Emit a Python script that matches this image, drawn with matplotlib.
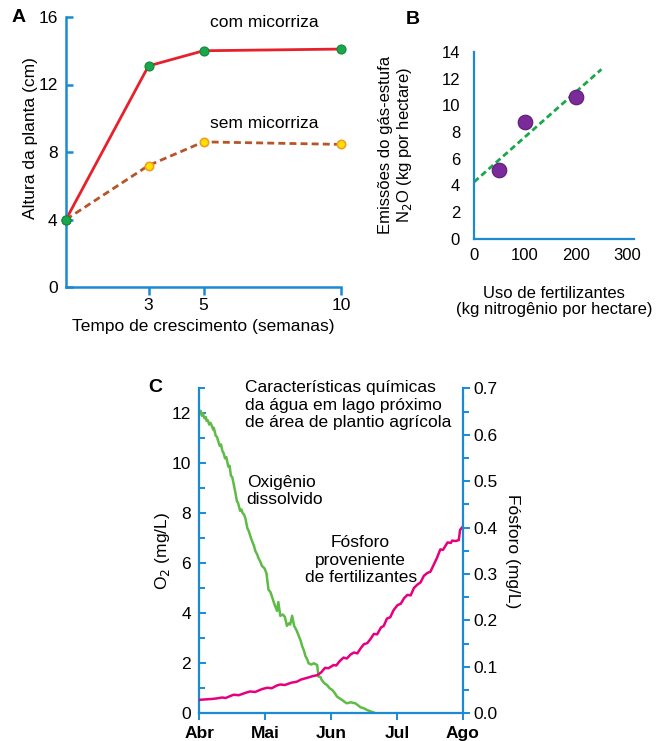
import matplotlib
matplotlib.use('Agg')
import numpy as np
import matplotlib.pyplot as plt

plt.rcParams['font.family'] = ['Liberation Sans', 'DejaVu Sans']

# --- dados A
semanas = [0, 3, 5, 10]
com_mic = [4.0, 13.1, 14.0, 14.1]
sem_mic = [4.0, 7.2, 8.6, 8.45]

# --- dados B
fert = [50, 100, 200]
n2o = [5.15, 8.75, 10.6]
trend_x = [0, 250]
trend_y = [4.25, 12.7]

# --- dados C (meses a partir de abril)
o2_t = [0.00, 0.02, 0.04, 0.05, 0.08, 0.10, 0.11, 0.13, 0.15, 0.17, 0.19, 0.21, 0.22, 0.25,
        0.27, 0.28, 0.31, 0.33, 0.35, 0.37, 0.39, 0.41, 0.44, 0.46, 0.48, 0.50, 0.52,
        0.55, 0.57, 0.59, 0.62, 0.64, 0.66, 0.68, 0.70, 0.73, 0.75, 0.78, 0.80, 0.83,
        0.85, 0.88, 0.90, 0.93, 0.95, 0.99, 1.02, 1.05, 1.08, 1.10, 1.13, 1.15, 1.18,
        1.20, 1.23, 1.27, 1.30, 1.33, 1.36, 1.38, 1.41, 1.44, 1.48, 1.51, 1.54, 1.56,
        1.59, 1.61, 1.64, 1.66, 1.70, 1.74, 1.79, 1.81, 1.84, 1.86, 1.90, 1.94, 1.98,
        2.02, 2.06, 2.09, 2.13, 2.17, 2.21, 2.24, 2.30, 2.37, 2.41, 2.45, 2.50, 2.55,
        2.62, 2.68]
o2_v = [12.0, 12.1, 11.9, 12.0, 11.8, 11.85, 11.7, 11.72, 11.55, 11.62, 11.5, 11.35, 11.42, 11.1,
        11.05, 10.95, 10.7, 10.75, 10.5, 10.4, 10.2, 10.25, 9.87, 9.9, 9.5, 9.45, 9.2,
        8.8, 8.5, 8.4, 8.1, 8.15, 8.0, 7.95, 7.8, 7.4, 7.3, 7.05, 6.9, 6.7,
        6.5, 6.35, 6.2, 6.05, 5.9, 5.8, 5.6, 4.95, 4.85, 4.7, 4.45, 4.3, 4.1,
        4.45, 3.9, 3.95, 3.85, 3.5, 3.6, 3.55, 3.9, 3.5, 3.3, 3.1, 2.9, 2.7,
        2.5, 2.3, 2.15, 2.0, 1.95, 2.0, 1.93, 1.47, 1.45, 1.33, 1.2, 1.13, 1.0,
        0.93, 0.8, 0.67, 0.6, 0.53, 0.45, 0.40, 0.44, 0.40, 0.32, 0.24, 0.2, 0.13,
        0.06, 0.0]
p_t = [0.00, 0.10, 0.20, 0.26, 0.35, 0.40, 0.52, 0.60, 0.70, 0.77, 0.85, 0.95, 1.03, 1.10,
       1.18, 1.23, 1.30, 1.40, 1.48, 1.55, 1.63, 1.72, 1.79, 1.85, 1.91, 1.96, 2.04, 2.08,
       2.13, 2.19, 2.24, 2.30, 2.35, 2.40, 2.45, 2.50, 2.55, 2.60, 2.65, 2.70, 2.76, 2.80,
       2.85, 2.90, 2.95, 3.01, 3.06, 3.11, 3.16, 3.21, 3.26, 3.31, 3.36, 3.41, 3.46, 3.51,
       3.56, 3.61, 3.66, 3.70, 3.77, 3.82, 3.84, 3.89, 3.94, 3.96, 4.0]
p_v = [0.029, 0.030, 0.031, 0.032, 0.034, 0.033, 0.040, 0.039, 0.044, 0.047, 0.046, 0.052,
       0.055, 0.054, 0.060, 0.062, 0.061, 0.066, 0.068, 0.073, 0.076, 0.080, 0.082, 0.088,
       0.098, 0.097, 0.104, 0.103, 0.112, 0.120, 0.118, 0.127, 0.131, 0.129, 0.140, 0.149,
       0.151, 0.160, 0.171, 0.170, 0.185, 0.188, 0.204, 0.207, 0.222, 0.233, 0.236, 0.248,
       0.255, 0.254, 0.270, 0.277, 0.282, 0.296, 0.302, 0.305, 0.320, 0.335, 0.353, 0.352,
       0.368, 0.367, 0.372, 0.371, 0.373, 0.395, 0.402]
meses = ['Abr', 'Mai', 'Jun', 'Jul', 'Ago']

blue = '#1b8ad3'
fs = 12.5

fig = plt.figure(figsize=(6.56, 7.41), dpi=100)

# ---------------- A
ax = fig.add_axes([66/656, 1-287/741, 275/656, 270/741])
ax.plot(semanas, com_mic, color='#e8202a', lw=2, zorder=2, clip_on=False)
ax.plot(semanas, sem_mic, color='#b5562a', lw=2, ls=(0, (2.5, 1.5)), zorder=2, clip_on=False)
ax.plot(semanas[1:], sem_mic[1:], 'o', ms=6, mfc='#ffe000', mec='#f0a020', mew=1.2, zorder=3,
        clip_on=False)
ax.plot(semanas, com_mic, 'o', ms=6.5, mfc='#1aa64a', mec='#12883a', mew=0.8, zorder=3,
        clip_on=False)
ax.plot(semanas[:1], sem_mic[:1], 'o', ms=6.5, mfc='#1aa64a', mec='#12883a', mew=0.8, zorder=4,
        clip_on=False)
ax.set_xlim(0, 10)
ax.set_ylim(0, 16)
ax.set_xticks([3, 5, 10])
ax.set_yticks([0, 4, 8, 12, 16])
for s in ['top', 'right']:
    ax.spines[s].set_visible(False)
for s in ['left', 'bottom']:
    ax.spines[s].set_color(blue)
    ax.spines[s].set_linewidth(1.8)
ax.tick_params(axis='y', direction='in', color=blue, width=1.8, length=5, labelsize=fs, pad=6)
ax.tick_params(axis='x', direction='out', color=blue, width=1.8, length=6, labelsize=fs, pad=2)
ax.set_xlabel('Tempo de crescimento (semanas)', fontsize=fs, labelpad=4)
ax.set_ylabel('Altura da planta (cm)', fontsize=fs)
ax.yaxis.set_label_coords(-0.10, 0.55)
ax.text(5.25, 15.7, 'com micorriza', fontsize=fs, va='center')
ax.text(5.25, 9.7, 'sem micorriza', fontsize=fs, va='center')
fig.text(12/656, 1-17/741, 'A', fontsize=14, fontweight='bold', va='center')

# ---------------- B
bx = fig.add_axes([474/656, 1-238.7/741, 160/656, 186.7/741])
bx.plot(trend_x, trend_y, color='#1aa64a', lw=2, ls=(0, (2.2, 1.3)))
bx.scatter(fert, n2o, s=110, color='#7b2a9a', edgecolor='#5a1a78', lw=0.8, zorder=3)
bx.set_xlim(0, 314)
bx.set_ylim(0, 14)
bx.set_xticks([0, 100, 200, 300])
bx.set_yticks(range(0, 15, 2))
for s in ['top', 'right']:
    bx.spines[s].set_visible(False)
for s in ['left', 'bottom']:
    bx.spines[s].set_color(blue)
    bx.spines[s].set_linewidth(1.6)
bx.tick_params(axis='y', length=0, labelsize=12, pad=10)
bx.tick_params(axis='x', length=0, labelsize=12, pad=7)
bx.set_xlabel('Uso de fertilizantes\n(kg nitrogênio por hectare)', fontsize=12, labelpad=16,
              linespacing=1.15)
bx.set_ylabel('Emissões do gás-estufa\nN$_2$O (kg por hectare)', fontsize=12, labelpad=20,
              linespacing=1.1)
fig.text(406/656, 1-19/741, 'B', fontsize=14, fontweight='bold', va='center')

# ---------------- C
cx = fig.add_axes([199.3/656, 1-713.3/741, 263.4/656, 325/741])
cx.plot(o2_t, o2_v, color='#5dbb46', lw=1.8)
cx.set_xlim(0, 4)
cx.set_ylim(0, 13)
cx.set_xticks(range(5))
cx.set_xticklabels(meses, fontweight='bold')
cx.set_yticks(range(0, 13, 2))
cx.set_yticks(range(0, 14), minor=True)
cx2 = cx.twinx()
cx2.plot(p_t, p_v, color='#e6007e', lw=1.8)
cx2.set_ylim(0, 0.7)
cx2.set_yticks(np.arange(0, 0.71, 0.1))
cx2.set_yticklabels(['0.0', '0.1', '0.2', '0.3', '0.4', '0.5', '0.6', '0.7'])
cx2.set_yticks(np.arange(0, 0.71, 0.05), minor=True)
for a in (cx, cx2):
    for s in a.spines.values():
        s.set_visible(False)
cx.spines['left'].set_visible(True)
cx.spines['bottom'].set_visible(True)
cx2.spines['right'].set_visible(True)
for s in [cx.spines['left'], cx.spines['bottom'], cx2.spines['right']]:
    s.set_color(blue)
    s.set_linewidth(1.6)
cx.tick_params(axis='y', which='both', direction='in', color=blue, width=1.4, labelsize=fs, pad=6)
cx.tick_params(axis='y', which='major', length=5)
cx.tick_params(axis='y', which='minor', length=4)
cx.tick_params(axis='x', direction='out', color=blue, width=1.4, length=5, labelsize=fs, pad=4)
cx2.tick_params(axis='y', which='both', direction='out', color=blue, width=1.4, labelsize=fs, pad=3)
cx2.tick_params(axis='y', which='major', length=5)
cx2.tick_params(axis='y', which='minor', length=4)
cx.set_ylabel('O$_2$ (mg/L)', fontsize=fs, labelpad=0)
cx2.set_ylabel('Fósforo (mg/L)', fontsize=fs, rotation=-90, labelpad=16)
cx.text(0.7, 12.33, 'Características químicas\nda água em lago próximo\nde área de plantio agrícola',
        fontsize=fs, va='center', ha='left', linespacing=1.2)
cx.text(0.72, 8.9, 'Oxigênio\ndissolvido', fontsize=fs, va='center', ha='left', linespacing=1.2)
cx.text(2.45, 6.13, 'Fósforo\nproveniente\nde fertilizantes', fontsize=fs, va='center', ha='center',
        linespacing=1.2)
fig.text(148/656, 1-387/741, 'C', fontsize=14, fontweight='bold', va='center')

fig.savefig('out.png', dpi=100)
